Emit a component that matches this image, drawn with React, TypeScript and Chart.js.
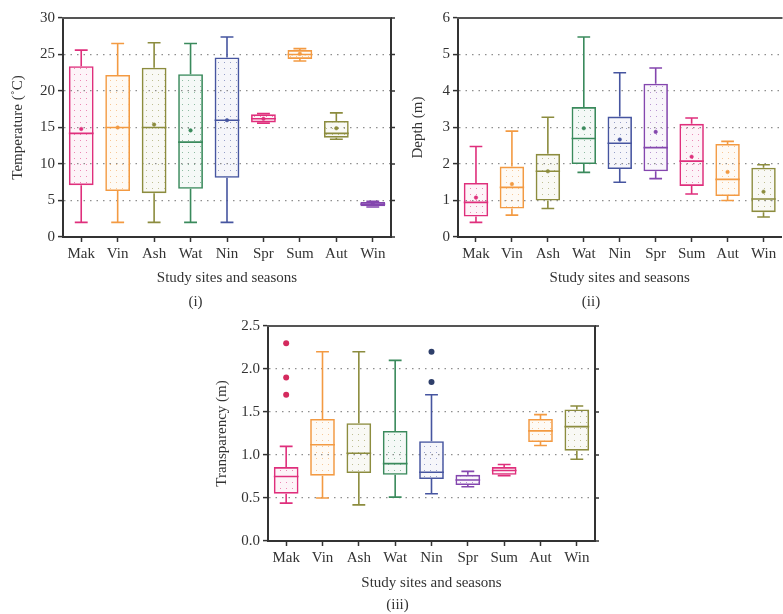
import React, { useEffect, useRef } from 'react';
import { Chart, registerables } from 'chart.js';
Chart.register(...registerables);

const FONT = "'Liberation Serif', 'Times New Roman', serif";
const TEXT = '#333333';

const categories = ['Mak', 'Vin', 'Ash', 'Wat', 'Nin', 'Spr', 'Sum', 'Aut', 'Win'];

// Panel (i): Temperature (°C)
const tempMin = [2, 2, 2, 2, 2, 15.6, 24.1, 13.4, 4.1];
const tempQ1 = [7.1, 6.3, 6.0, 6.6, 8.1, 15.7, 24.4, 13.6, 4.2];
const tempMedian = [14.2, 15.0, 15.0, 13.0, 16.0, 16.2, 25.0, 14.2, 4.5];
const tempQ3 = [23.4, 22.2, 23.2, 22.3, 24.6, 16.8, 25.6, 15.9, 4.8];
const tempMax = [25.6, 26.5, 26.6, 26.5, 27.4, 16.9, 25.8, 17.0, 4.9];
const tempMean = [14.8, 15.0, 15.4, 14.6, 16.0, 16.2, 25.1, 14.9, 4.6];

// Panel (ii): Depth (m)
const depthMin = [0.4, 0.6, 0.78, 1.77, 1.5, 1.6, 1.18, 1.0, 0.55];
const depthQ1 = [0.56, 0.78, 1.0, 2.0, 1.86, 1.8, 1.4, 1.12, 0.68];
const depthMedian = [0.95, 1.36, 1.8, 2.7, 2.57, 2.45, 2.08, 1.58, 1.04];
const depthQ3 = [1.48, 1.93, 2.28, 3.56, 3.3, 4.2, 3.1, 2.55, 1.9];
const depthMax = [2.48, 2.9, 3.28, 5.48, 4.5, 4.63, 3.26, 2.62, 1.98];
const depthMean = [1.08, 1.45, 1.8, 2.98, 2.67, 2.88, 2.2, 1.78, 1.24];

// Panel (iii): Transparency (m)
const transMin = [0.44, 0.5, 0.42, 0.51, 0.55, 0.63, 0.76, 1.11, 0.95];
const transQ1 = [0.55, 0.76, 0.79, 0.77, 0.72, 0.65, 0.77, 1.15, 1.05];
const transMedian = [0.75, 1.12, 1.02, 0.9, 0.8, 0.71, 0.82, 1.28, 1.33];
const transQ3 = [0.86, 1.42, 1.37, 1.28, 1.16, 0.77, 0.86, 1.42, 1.53];
const transMax = [1.1, 2.2, 2.2, 2.1, 1.7, 0.81, 0.89, 1.47, 1.57];
const transOutlierCats = ['Mak', 'Mak', 'Mak', 'Nin', 'Nin'];
const transOutlierValues = [2.3, 1.9, 1.7, 2.2, 1.85];
const transOutlierColors = ['#d42a5e', '#d42a5e', '#d42a5e', '#2e3f6a', '#2e3f6a'];

const MAG = '#df2f7c';
const ORA = '#f39a42';
const OLI = '#8c8c3e';
const GRN = '#3a8a5c';
const NAV = '#4655a0';
const PUR = '#8446ae';
const colorsI = [MAG, ORA, OLI, GRN, NAV, MAG, ORA, OLI, PUR];
const colorsII = [MAG, ORA, OLI, GRN, NAV, PUR, MAG, ORA, OLI];

function rgba(hex: string, a: number) {
  const n = parseInt(hex.slice(1), 16);
  return `rgba(${(n >> 16) & 255},${(n >> 8) & 255},${n & 255},${a})`;
}

function dotPattern(hex: string): any {
  const c = document.createElement('canvas');
  c.width = 6;
  c.height = 6;
  const g = c.getContext('2d')!;
  g.fillStyle = rgba(hex, 0.05);
  g.fillRect(0, 0, 6, 6);
  g.fillStyle = rgba(hex, 0.55);
  g.fillRect(2, 2, 1, 1);
  return g.createPattern(c, 'repeat');
}

type PanelProps = {
  left: number; top: number; width: number; height: number;
  yAxisWidth: number; padTop: number; padRight: number; padBottom: number;
  xAxisHeight: number; xTitlePad: number; yTitlePad: number;
  yMin: number; yMax: number; yStep: number; decimals: number;
  yTitle: string; caption: string;
  mins: number[]; q1: number[]; med: number[]; q3: number[]; maxs: number[];
  means?: number[];
  outCats?: string[]; outVals?: number[]; outColors?: string[];
  colors: string[]; rightFrame: boolean;
};

function BoxPanel(p: PanelProps) {
  const ref = useRef<HTMLCanvasElement>(null);
  useEffect(() => {
    const canvas = ref.current!;
    const whiskerPlugin = {
      id: 'whiskers',
      afterDatasetDraw(chart: any, args: any) {
        if (args.index !== 0) return;
        const { ctx, scales } = chart;
        const x = scales.x, y = scales.y;
        const meta = chart.getDatasetMeta(0);
        ctx.save();
        meta.data.forEach((bar: any, i: number) => {
          const cx = x.getPixelForValue(i);
          const w = bar.width;
          const cap = w * 0.26;
          ctx.strokeStyle = p.colors[i];
          ctx.lineWidth = 1.6;
          const yMin = y.getPixelForValue(p.mins[i]);
          const yQ1 = y.getPixelForValue(p.q1[i]);
          const yQ3 = y.getPixelForValue(p.q3[i]);
          const yMax = y.getPixelForValue(p.maxs[i]);
          const yMed = y.getPixelForValue(p.med[i]);
          ctx.beginPath();
          ctx.moveTo(cx, yQ1); ctx.lineTo(cx, yMin);
          ctx.moveTo(cx, yQ3); ctx.lineTo(cx, yMax);
          ctx.moveTo(cx - cap, yMin); ctx.lineTo(cx + cap, yMin);
          ctx.moveTo(cx - cap, yMax); ctx.lineTo(cx + cap, yMax);
          ctx.moveTo(cx - w / 2, yMed); ctx.lineTo(cx + w / 2, yMed);
          ctx.stroke();
        });
        ctx.restore();
      },
    };
    const framePlugin = {
      id: 'frame',
      afterDraw(chart: any) {
        const { ctx, chartArea, scales } = chart;
        ctx.save();
        ctx.strokeStyle = '#555555';
        ctx.lineWidth = 2;
        ctx.beginPath();
        ctx.moveTo(chartArea.left - 1, chartArea.top);
        ctx.lineTo(chartArea.right + 1, chartArea.top);
        ctx.stroke();
        if (p.rightFrame) {
          ctx.strokeStyle = '#333333';
          ctx.beginPath();
          ctx.moveTo(chartArea.right, chartArea.top);
          ctx.lineTo(chartArea.right, chartArea.bottom + 1);
          ctx.stroke();
          ctx.lineWidth = 1.5;
          ctx.beginPath();
          scales.y.ticks.forEach((t: any) => {
            const py = scales.y.getPixelForValue(t.value);
            ctx.moveTo(chartArea.right, py);
            ctx.lineTo(chartArea.right + 4, py);
          });
          ctx.stroke();
        }
        ctx.restore();
      },
    };
    const datasets: any[] = [
      {
        type: 'bar',
        label: 'box',
        data: p.q1.map((v, i) => [v, p.q3[i]]),
        backgroundColor: p.colors.map(dotPattern),
        borderColor: p.colors,
        borderWidth: 1.6,
        borderSkipped: false,
        barPercentage: 0.68,
        categoryPercentage: 1,
        order: 2,
      },
    ];
    if (p.means) {
      datasets.push({
        type: 'line',
        label: 'mean',
        data: p.means,
        showLine: false,
        pointRadius: 1.8,
        pointBackgroundColor: p.colors,
        pointBorderColor: p.colors,
        pointBorderWidth: 0.5,
        order: 1,
      });
    }
    if (p.outVals && p.outCats) {
      datasets.push({
        type: 'line',
        label: 'outliers',
        data: p.outVals.map((v, i) => ({ x: p.outCats![i], y: v })),
        showLine: false,
        pointRadius: 3,
        pointBackgroundColor: p.outColors,
        pointBorderColor: p.outColors,
        pointBorderWidth: 0,
        order: 0,
      });
    }
    const chart = new Chart(canvas, {
      type: 'bar',
      data: { labels: categories, datasets },
      options: {
        responsive: false,
        animation: false,
        devicePixelRatio: 1,
        layout: { padding: { left: 0, right: p.padRight, top: p.padTop, bottom: p.padBottom } },
        plugins: {
          legend: { display: false },
          tooltip: { enabled: false },
          title: {
            display: true,
            position: 'bottom',
            text: p.caption,
            color: TEXT,
            font: { family: FONT, size: 15, weight: 'normal', lineHeight: 1.2 },
            padding: { top: 0, bottom: 0 },
          },
        },
        scales: {
          x: {
            type: 'category',
            offset: true,
            grid: {
              display: true,
              offset: false,
              drawOnChartArea: false,
              drawTicks: true,
              tickLength: 5,
              tickColor: '#333333',
              tickWidth: 1.5,
            },
            border: { display: true, color: '#333333', width: 2 },
            ticks: {
              color: TEXT,
              font: { family: FONT, size: 15 },
              padding: 3,
              maxRotation: 0,
              autoSkip: false,
            },
            title: {
              display: true,
              text: 'Study sites and seasons',
              color: TEXT,
              font: { family: FONT, size: 15, lineHeight: 1.2 },
              padding: { top: 0, bottom: p.xTitlePad },
            },
            afterFit: (s: any) => { s.height = p.xAxisHeight; },
          },
          y: {
            min: p.yMin,
            max: p.yMax,
            ticks: {
              stepSize: p.yStep,
              color: TEXT,
              font: { family: FONT, size: 15 },
              padding: 3,
              callback: (v: any) => Number(v).toFixed(p.decimals),
            },
            grid: {
              color: (c: any) =>
                c.tick && (Math.abs(c.tick.value - p.yMin) < 1e-9 || Math.abs(c.tick.value - p.yMax) < 1e-9)
                  ? 'rgba(0,0,0,0)'
                  : 'rgba(105,105,105,0.75)',
              lineWidth: 1.2,
              drawTicks: true,
              tickLength: 5,
              tickColor: '#333333',
              tickWidth: 1.5,
            },
            border: { display: true, color: '#333333', width: 2, dash: [1.5, 5] },
            title: {
              display: true,
              text: p.yTitle,
              color: TEXT,
              font: { family: FONT, size: 15, lineHeight: 1.2 },
              padding: { top: p.yTitlePad, bottom: 0 },
            },
            afterFit: (s: any) => { s.width = p.yAxisWidth; },
          },
        },
      } as any,
      plugins: [whiskerPlugin, framePlugin],
    });
    return () => chart.destroy();
  }, []);
  return (
    <div style={{ position: 'absolute', left: p.left, top: p.top, width: p.width, height: p.height }}>
      <canvas ref={ref} width={p.width} height={p.height} style={{ display: 'block' }} />
    </div>
  );
}

export default function App() {
  return (
    <div style={{ position: 'absolute', left: 0, top: 0, width: 783, height: 614, background: '#ffffff', overflow: 'hidden' }}>
      <BoxPanel
        left={0} top={0} width={396} height={312}
        yAxisWidth={63} padTop={18} padRight={5} padBottom={1}
        xAxisHeight={56} xTitlePad={6} yTitlePad={9}
        yMin={0} yMax={30} yStep={5} decimals={0}
        yTitle="Temperature (˚C)" caption="(i)"
        mins={tempMin} q1={tempQ1} med={tempMedian} q3={tempQ3} maxs={tempMax}
        means={tempMean}
        colors={colorsI} rightFrame={true}
      />
      <BoxPanel
        left={396} top={0} width={390} height={312}
        yAxisWidth={62} padTop={18} padRight={0} padBottom={1}
        xAxisHeight={56} xTitlePad={6} yTitlePad={13}
        yMin={0} yMax={6} yStep={1} decimals={0}
        yTitle="Depth (m)" caption="(ii)"
        mins={depthMin} q1={depthQ1} med={depthMedian} q3={depthQ3} maxs={depthMax}
        means={depthMean}
        colors={colorsII} rightFrame={false}
      />
      <BoxPanel
        left={200} top={312} width={400} height={302}
        yAxisWidth={68} padTop={14} padRight={5} padBottom={0}
        xAxisHeight={55} xTitlePad={4} yTitlePad={13}
        yMin={0} yMax={2.5} yStep={0.5} decimals={1}
        yTitle="Transparency (m)" caption="(iii)"
        mins={transMin} q1={transQ1} med={transMedian} q3={transQ3} maxs={transMax}
        outCats={transOutlierCats} outVals={transOutlierValues} outColors={transOutlierColors}
        colors={colorsII} rightFrame={true}
      />
    </div>
  );
}
